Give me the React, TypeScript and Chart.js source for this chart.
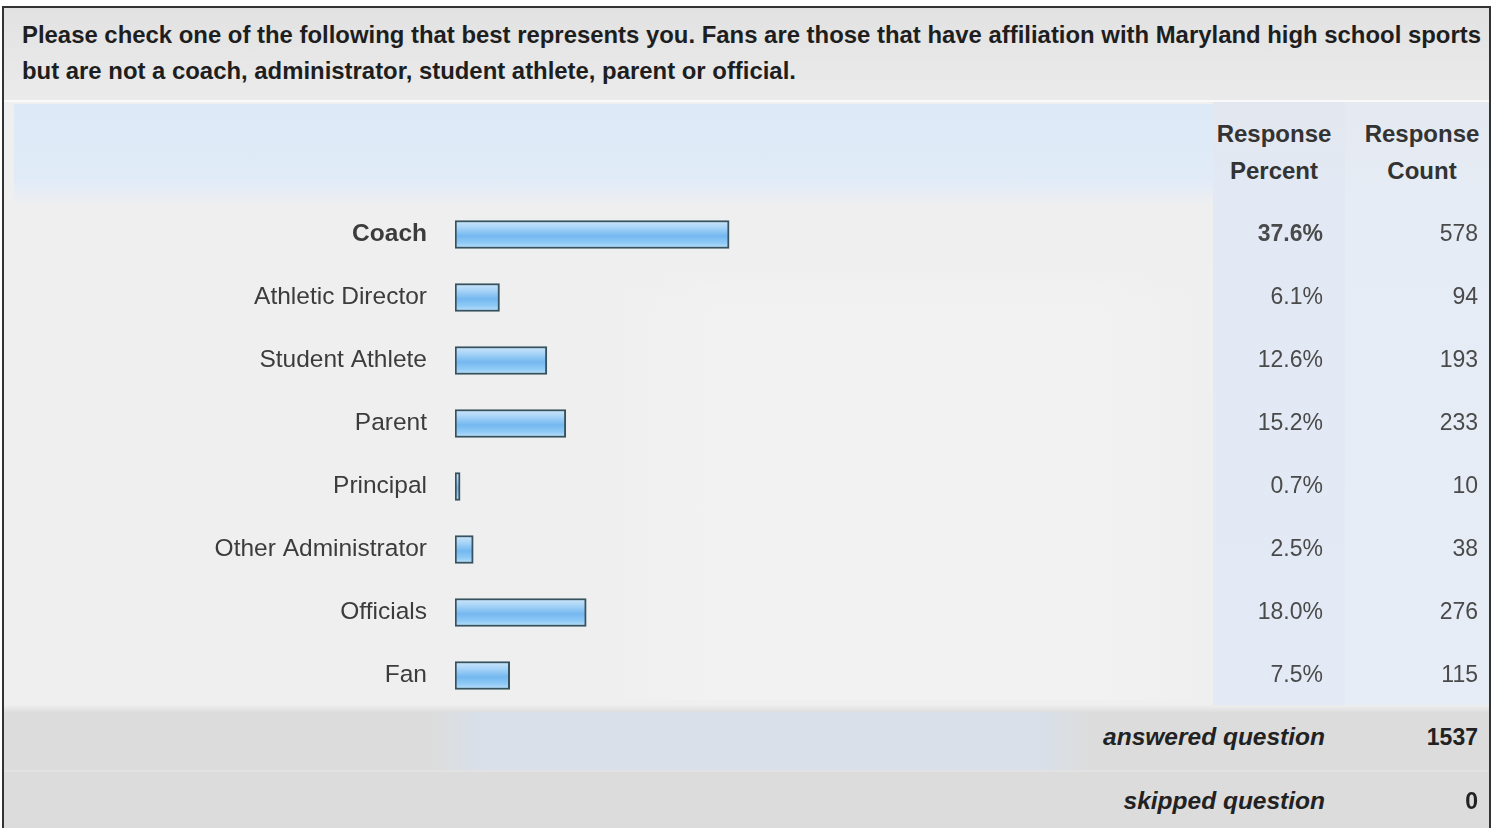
import React, { useEffect, useRef } from "react";
import { Chart, registerables } from "chart.js";

Chart.register(...registerables);

const categories = [
  "Coach",
  "Athletic Director",
  "Student Athlete",
  "Parent",
  "Principal",
  "Other Administrator",
  "Officials",
  "Fan",
];
const responsePercent = [37.6, 6.1, 12.6, 15.2, 0.7, 2.5, 18.0, 7.5];
const responseCount = [578, 94, 193, 233, 10, 38, 276, 115];
const percentLabels = responsePercent.map((v) => v.toFixed(1) + "%");
const countLabels = responseCount.map((v) => String(v));
const questionLines = [
  "Please check one of the following that best represents you. Fans are those that have affiliation with Maryland high school sports",
  "but are not a coach, administrator, student athlete, parent or official.",
];
const columnHeaders = [
  ["Response", "Percent"],
  ["Response", "Count"],
];
const answeredLabel = "answered question";
const answeredCount = 1537;
const skippedLabel = "skipped question";
const skippedCount = 0;
const boldRow = 0;

const FONT = '"Liberation Sans", Arial, Helvetica, sans-serif';
const CANVAS_W = 1490;
const CANVAS_H = 605;

function fixWidth(w: number) {
  return (scale: any) => {
    scale.width = w;
    scale.paddingTop = 0;
    scale.paddingBottom = 0;
  };
}

export default function App() {
  const canvasRef = useRef<HTMLCanvasElement | null>(null);

  useEffect(() => {
    const canvas = canvasRef.current;
    if (!canvas) return;
    const chart = new Chart(canvas, {
      type: "bar",
      data: {
        labels: categories,
        datasets: [
          {
            data: responsePercent,
            yAxisID: "y",
            xAxisID: "x",
            barThickness: 28,
            borderWidth: 2,
            borderSkipped: false,
            borderColor: "#36525e",
            backgroundColor: (ctx: any) => {
              const ch = ctx.chart;
              const ys = ch.scales && ch.scales.y;
              if (!ys || ctx.dataIndex === undefined) return "#8cc8f5";
              const c = ys.getPixelForValue(ctx.dataIndex);
              if (!Number.isFinite(c)) return "#8cc8f5";
              const g = ch.ctx.createLinearGradient(0, c - 14, 0, c + 14);
              g.addColorStop(0, "#cfe6fa");
              g.addColorStop(0.25, "#a8d4f8");
              g.addColorStop(0.55, "#74b8f0");
              g.addColorStop(0.8, "#8fcaf6");
              g.addColorStop(1, "#bfe2fa");
              return g;
            },
          },
        ],
      },
      options: {
        animation: false,
        responsive: false,
        maintainAspectRatio: false,
        devicePixelRatio: window.devicePixelRatio || 1,
        indexAxis: "y",
        layout: { padding: { top: 101, bottom: 0, left: 0, right: 12 } },
        plugins: {
          legend: { display: false },
          tooltip: { enabled: false },
          title: { display: false },
        },
        scales: {
          x: {
            type: "linear",
            min: 0,
            max: 100,
            display: false,
          },
          y: {
            type: "category",
            position: "left",
            grid: { display: false, drawTicks: false },
            border: { display: false },
            afterFit: fixWidth(455),
            ticks: {
              padding: 28,
              crossAlign: "near",
              color: "#3c3c3c",
              font: (ctx: any) => ({
                family: FONT,
                size: 24.5,
                weight: ctx.index === boldRow ? "bold" : "normal",
              }),
            },
          },
          y2: {
            type: "category",
            position: "right",
            labels: percentLabels,
            offset: true,
            grid: { display: false, drawTicks: false },
            border: { display: false },
            afterFit: fixWidth(139),
            ticks: {
              padding: 0,
              crossAlign: "far",
              color: "#4a4a4a",
              font: (ctx: any) => ({
                family: FONT,
                size: 23,
                weight: ctx.index === boldRow ? "bold" : "normal",
              }),
            },
          },
          y3: {
            type: "category",
            position: "right",
            labels: countLabels,
            offset: true,
            grid: { display: false, drawTicks: false },
            border: { display: false },
            afterFit: fixWidth(155),
            ticks: {
              padding: 0,
              crossAlign: "far",
              color: "#4a4a4a",
              font: { family: FONT, size: 23 },
            },
          },
        },
      },
    } as any);
    return () => chart.destroy();
  }, []);

  const abs = (s: React.CSSProperties): React.CSSProperties => ({ position: "absolute", ...s });

  return (
    <div
      style={abs({
        left: 0,
        top: 0,
        width: 1501,
        height: 828,
        overflow: "hidden",
        background: "#ffffff",
        fontFamily: FONT,
      })}
    >
      {/* header */}
      <div style={abs({ left: 4, top: 8, width: 1485, height: 92, background: "linear-gradient(#e2e2e2, #ebebeb)" })} />
      <div style={abs({ left: 4, top: 100, width: 1485, height: 2, background: "#fafafa" })} />
      <div
        style={abs({
          left: 22,
          top: 17,
          whiteSpace: "nowrap",
          fontSize: 23.9,
          fontWeight: "bold",
          lineHeight: "36px",
          color: "#1e1e1e",
        })}
      >
        {questionLines.map((l, i) => (
          <div key={i}>{l}</div>
        ))}
      </div>

      {/* table body background */}
      <div style={abs({ left: 4, top: 102, width: 1485, height: 603, background: "#efefef" })} />
      <div
        style={abs({
          left: 14,
          top: 104,
          width: 1199,
          height: 104,
          background: "linear-gradient(rgba(221,233,247,1) 0%, rgba(225,235,248,1) 72%, rgba(239,239,239,0) 100%)",
        })}
      />
      <div
        style={abs({
          left: 600,
          top: 260,
          width: 613,
          height: 440,
          background:
            "linear-gradient(rgba(239,239,239,1), rgba(239,239,239,0) 12%), linear-gradient(90deg, rgba(242,242,242,0), #f2f2f2 20%, #f2f2f2 80%, rgba(242,242,242,0))",
        })}
      />
      <div style={abs({ left: 1213, top: 102, width: 132, height: 603, background: "linear-gradient(#e3e7ef, #e2e9f4 15%, #e3eaf5)" })} />
      <div style={abs({ left: 1345, top: 102, width: 144, height: 603, background: "linear-gradient(#e5e9f0, #e6ecf5 15%, #e7edf6)" })} />

      {/* column headers */}
      {columnHeaders.map((h, i) => (
        <div
          key={i}
          style={abs({
            left: i === 0 ? 1274 - 80 : 1422 - 80,
            width: 160,
            top: 115,
            textAlign: "center",
            fontSize: 24,
            fontWeight: "bold",
            lineHeight: "37px",
            color: "#333333",
          })}
        >
          <div>{h[0]}</div>
          <div>{h[1]}</div>
        </div>
      ))}

      {/* chart */}
      <div style={abs({ left: 0, top: 102, width: CANVAS_W, height: CANVAS_H })}>
        <canvas
          ref={canvasRef}
          width={CANVAS_W}
          height={CANVAS_H}
          style={{ display: "block", width: CANVAS_W, height: CANVAS_H }}
        />
      </div>

      {/* footer */}
      <div style={abs({ left: 4, top: 705, width: 1485, height: 123, background: "#dcdcdc" })} />
      <div style={abs({ left: 4, top: 705, width: 1485, height: 8, background: "linear-gradient(#eeeeee, #dcdcdc)" })} />
      <div
        style={abs({
          left: 430,
          top: 712,
          width: 660,
          height: 58,
          background: "linear-gradient(90deg, rgba(217,224,234,0), #d9e0ea 8%, #d9e0ea 92%, rgba(217,224,234,0))",
        })}
      />
      <div style={abs({ left: 4, top: 770, width: 1485, height: 2, background: "#e2e2e2" })} />
      {[
        [answeredLabel, answeredCount, 737],
        [skippedLabel, skippedCount, 801],
      ].map(([label, count, y], i) => (
        <React.Fragment key={i}>
          <div
            style={abs({
              right: 1501 - 1325,
              top: (y as number) - 15,
              lineHeight: "30px",
              fontSize: 24.5,
              fontWeight: "bold",
              fontStyle: "italic",
              color: "#222222",
              whiteSpace: "nowrap",
            })}
          >
            {label}
          </div>
          <div
            style={abs({
              right: 1501 - 1478,
              top: (y as number) - 15,
              lineHeight: "30px",
              fontSize: 23,
              fontWeight: "bold",
              color: "#222222",
            })}
          >
            {String(count)}
          </div>
        </React.Fragment>
      ))}

      {/* frame */}
      <div
        style={abs({
          left: 2,
          top: 6,
          width: 1485,
          height: 830,
          border: "2px solid #333333",
        })}
      />
    </div>
  );
}
